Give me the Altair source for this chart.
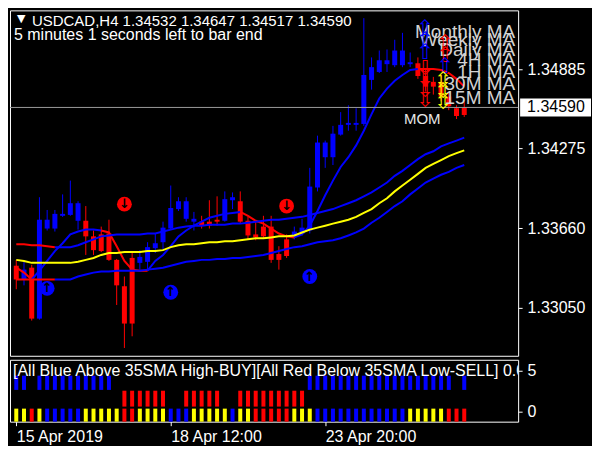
import altair as alt
import pandas as pd

# ---------------- data ----------------
bar_index = list(range(59))
opens = [1.33372,1.33266,1.33357,1.32965,1.33726,1.33658,1.33771,1.33763,1.33853,1.33718,
         1.33598,1.33485,1.33620,1.33417,1.33214,1.32927,1.33440,1.33402,1.33507,1.33553,
         1.33658,1.33808,1.33868,1.33733,1.33711,1.33680,1.33711,1.33718,1.33876,1.33868,
         1.33718,1.33613,1.33598,1.33673,1.33417,1.33447,1.33598,1.33620,1.33643,1.33974,
         1.34320,1.34207,1.34381,1.34456,1.34471,1.34463,1.34802,1.34863,1.34953,1.34915,
         1.35028,1.34923,1.34930,1.34832,1.34750,1.34787,1.34674,1.34584,1.34532]
highs = [1.33417,1.33402,1.33379,1.33899,1.33801,1.33801,1.33921,1.34027,1.33868,1.33831,
         1.33643,1.33673,1.33726,1.33424,1.33289,1.33485,1.33492,1.33553,1.33620,1.33711,
         1.33989,1.33899,1.33899,1.33786,1.33756,1.33876,1.33906,1.33944,1.33936,1.33944,
         1.33748,1.33718,1.33756,1.33756,1.33522,1.33613,1.33673,1.33733,1.34125,1.34373,
         1.34335,1.34448,1.34554,1.34607,1.34584,1.35277,1.34975,1.35028,1.35036,1.35111,
         1.35164,1.35013,1.34975,1.34885,1.34825,1.34840,1.34712,1.34607,1.34647]
lows = [1.33191,1.33221,1.32950,1.32957,1.33643,1.33635,1.33748,1.33756,1.33650,1.33455,
        1.33455,1.33477,1.33409,1.33070,1.32739,1.32829,1.33342,1.33334,1.33470,1.33492,
        1.33650,1.33793,1.33711,1.33643,1.33658,1.33658,1.33680,1.33711,1.33808,1.33696,
        1.33575,1.33568,1.33583,1.33394,1.33342,1.33432,1.33575,1.33605,1.33620,1.33944,
        1.34125,1.34147,1.34373,1.34411,1.34411,1.34448,1.34727,1.34855,1.34863,1.34900,
        1.34900,1.34900,1.34810,1.34712,1.34689,1.34637,1.34569,1.34501,1.34517]
closes = [1.33266,1.33342,1.32965,1.33726,1.33658,1.33771,1.33756,1.33853,1.33718,1.33598,
          1.33492,1.33613,1.33417,1.33221,1.32927,1.33432,1.33394,1.33515,1.33545,1.33665,
          1.33816,1.33868,1.33733,1.33711,1.33680,1.33711,1.33726,1.33884,1.33899,1.33711,
          1.33605,1.33590,1.33673,1.33417,1.33462,1.33575,1.33635,1.33665,1.33981,1.34320,
          1.34207,1.34388,1.34456,1.34471,1.34456,1.34840,1.34900,1.34953,1.34923,1.35028,
          1.34915,1.34938,1.34832,1.34750,1.34787,1.34674,1.34599,1.34524,1.34590]
candle_colors = "RBRBBBBBBRRRRRRRBBBBBBBBRRRBBRRRRRRRBBBBBBBBBBBBBBBBRRRRRRR"

fast_ma = [1.33357,1.33319,1.33266,1.33334,1.33409,1.33485,1.33545,1.33613,1.33635,1.33650,
           1.33650,1.33643,1.33628,1.33522,1.33409,1.33342,1.33334,1.33334,1.33409,1.33455,
           1.33522,1.33598,1.33643,1.33680,1.33711,1.33741,1.33756,1.33771,1.33778,1.33786,
           1.33756,1.33718,1.33696,1.33658,1.33620,1.33598,1.33590,1.33613,1.33680,1.33793,
           1.33914,1.34027,1.34132,1.34207,1.34298,1.34411,1.34539,1.34659,1.34735,1.34795,
           1.34840,1.34878,1.34885,1.34885,1.34885,1.34878,1.34855,1.34810,1.34750]
fast_runs = [("R", 0, 2), ("B", 2, 11), ("R", 11, 17), ("B", 17, 29), ("R", 29, 36), ("B", 36, 52), ("R", 52, 58)]
sma_mid = [1.33417,1.33409,1.33394,1.33394,1.33394,1.33394,1.33394,1.33394,1.33402,1.33417,
           1.33432,1.33455,1.33470,1.33470,1.33477,1.33477,1.33477,1.33485,1.33485,1.33492,
           1.33515,1.33530,1.33537,1.33537,1.33545,1.33553,1.33553,1.33560,1.33560,1.33568,
           1.33575,1.33583,1.33583,1.33590,1.33598,1.33598,1.33605,1.33628,1.33650,1.33665,
           1.33680,1.33696,1.33711,1.33726,1.33748,1.33778,1.33808,1.33853,1.33891,1.33944,
           1.33989,1.34034,1.34079,1.34125,1.34155,1.34185,1.34215,1.34238,1.34260]
mid_runs = [("Y", 0, 58)]
sma_high = [1.33537,1.33537,1.33530,1.33530,1.33522,1.33515,1.33515,1.33515,1.33530,1.33553,
            1.33575,1.33598,1.33605,1.33613,1.33613,1.33613,1.33613,1.33620,1.33620,1.33635,
            1.33650,1.33665,1.33673,1.33680,1.33680,1.33688,1.33688,1.33688,1.33696,1.33696,
            1.33703,1.33711,1.33718,1.33726,1.33726,1.33733,1.33741,1.33748,1.33763,1.33778,
            1.33793,1.33808,1.33831,1.33853,1.33876,1.33906,1.33936,1.33974,1.34012,1.34064,
            1.34102,1.34147,1.34192,1.34230,1.34253,1.34290,1.34313,1.34335,1.34358]
sma_low = [1.33266,1.33266,1.33266,1.33266,1.33266,1.33266,1.33266,1.33266,1.33289,1.33304,
           1.33319,1.33327,1.33327,1.33334,1.33334,1.33334,1.33334,1.33342,1.33349,1.33357,
           1.33372,1.33387,1.33402,1.33409,1.33417,1.33417,1.33424,1.33424,1.33432,1.33432,
           1.33440,1.33447,1.33455,1.33470,1.33485,1.33500,1.33515,1.33522,1.33537,1.33553,
           1.33560,1.33568,1.33583,1.33605,1.33628,1.33658,1.33703,1.33741,1.33786,1.33831,
           1.33868,1.33921,1.33966,1.34012,1.34042,1.34072,1.34094,1.34125,1.34147]
band_runs = [("R", 0, 5), ("B", 5, 58)]

sig_down_bar = [14, 35]
sig_down_price = [1.33846, 1.33831]
sig_up_bar = [4, 20, 38]
sig_up_price = [1.33198, 1.33168, 1.33289]

price_ticks = [1.33050, 1.33660, 1.34275, 1.34885]
last_price = 1.34590

sub_top = "BB-BBBBBBBBBB-------------------------BBBBBBBBBBBBBBBBBBB-B"
sub_mid = "--------------RRRRRR--RRRRR--RRRRRRRRR---------------------"
sub_bot = "YYRYBBBBBYYYYYRRYYYYBBBYYYYYBYYRRRRRYYYBBBBBBBBBBBBYYYYYRRR"
sub_rows = {"top": (2.65, 4.4), "mid": (0.6, 2.55), "bot": (-1.25, 0.35)}
time_ticks = [0, 20, 40]
time_labels = ["15 Apr 2019", "18 Apr 12:00", "23 Apr 20:00"]

header = "USDCAD,H4  1.34532 1.34647 1.34517 1.34590"
timer_text = "5 minutes 1 seconds left to bar end"
sub_text = "[All Blue Above 35SMA High-BUY][All Red Below 35SMA Low-SELL] 0.0"
ma_labels = ["Monthly MA", "Weekly MA", "Daily MA", "4H MA", "1H MA", "30M MA", "15M MA"]
ma_label_y = [22, 30, 40, 50, 62, 74, 88]
# trend dashboard glyphs: (symbol, colour, x, y) in screen pixels of the panel
dash_glyphs = [("⇧", "B", 416, 19), ("⇧", "B", 416, 31), ("⇧", "B", 416, 43),
               ("⇩", "R", 416, 59), ("⇩", "R", 416, 70), ("⇩", "R", 416, 81), ("⇩", "R", 416, 91),
               ("⇧", "R", 436, 34), ("⇧", "R", 436, 46), ("⇧", "B", 436, 57),
               ("⇳", "Y", 434, 71), ("⇳", "Y", 434, 82), ("⇳", "Y", 434, 93)]

# ---------------- styling / layout ----------------
PAL = {"B": "#0000ff", "R": "#ff0000", "Y": "#ffff00"}
FONT = "Liberation Sans"
W, H_MAIN, H_SUB = 509, 346, 62
xs = alt.Scale(domain=[-0.166, 64.33], nice=False, zero=False)
ys = alt.Scale(domain=[1.32679, 1.35337], nice=False, zero=False)
ys_sub = alt.Scale(domain=[-1.25, 6.35], nice=False, zero=False)
dummy = pd.DataFrame({"a": [0]})


def label(txt, x, y, size=15, color="white", align="left", font=FONT, clip=False, bold=False):
    return alt.Chart(dummy).mark_text(
        align=align, baseline="middle", font=font, fontSize=size, color=color,
        clip=clip, fontWeight="bold" if bold else "normal"
    ).encode(x=alt.value(x), y=alt.value(y), text=alt.value(txt))


candles = pd.DataFrame({
    "i": bar_index, "open": opens, "high": highs, "low": lows, "close": closes,
    "col": [PAL[c] for c in candle_colors],
})

price_axis = alt.Axis(orient="right", values=price_ticks, format=".5f", title=None,
                      labelFont=FONT, labelFontSize=16, labelColor="white",
                      tickColor="white", tickSize=4, labelPadding=5, domain=False,
                      grid=False, labelBound=False)

wicks = alt.Chart(candles).mark_rule(strokeWidth=1).encode(
    x=alt.X("i:Q", scale=xs, axis=None),
    y=alt.Y("low:Q", scale=ys, axis=price_axis),
    y2="high:Q",
    color=alt.Color("col:N", scale=None),
)
bodies = alt.Chart(candles).mark_bar(size=5).encode(
    x=alt.X("i:Q", scale=xs, axis=None),
    y=alt.Y("open:Q", scale=ys),
    y2="close:Q",
    color=alt.Color("col:N", scale=None),
)

rows = []
for name, vals, runs in [("fast", fast_ma, fast_runs), ("high", sma_high, band_runs),
                         ("low", sma_low, band_runs), ("mid", sma_mid, mid_runs)]:
    for k, (c, a, b) in enumerate(runs):
        for j in range(a, b + 1):
            rows.append({"seg": f"{name}{k}", "i": j, "v": vals[j], "col": PAL[c], "order": j})
lines_df = pd.DataFrame(rows)
lines = alt.Chart(lines_df).mark_line(strokeWidth=2).encode(
    x=alt.X("i:Q", scale=xs, axis=None),
    y=alt.Y("v:Q", scale=ys),
    detail="seg:N",
    order="order:Q",
    color=alt.Color("col:N", scale=None),
)

last_df = pd.DataFrame({"p": [last_price], "t": [f"{last_price:.5f}"]})
last_rule = alt.Chart(last_df).mark_rule(color="#9a9a9a", strokeWidth=1).encode(
    y=alt.Y("p:Q", scale=ys), x=alt.value(0), x2=alt.value(W))
last_box = alt.Chart(last_df).mark_rect(color="white", yOffset=-9, y2Offset=9).encode(
    y=alt.Y("p:Q", scale=ys), y2="p:Q", x=alt.value(511), x2=alt.value(582))
last_txt = alt.Chart(last_df).mark_text(align="left", baseline="middle", font=FONT,
                                        fontSize=16, color="black").encode(
    y=alt.Y("p:Q", scale=ys), x=alt.value(518), text="t:N")

sig_dn = pd.DataFrame({"i": sig_down_bar, "p": sig_down_price})
sig_up = pd.DataFrame({"i": sig_up_bar, "p": sig_up_price})
dn_circ = alt.Chart(sig_dn).mark_point(shape="circle", filled=True, size=220, color="#ff0000", opacity=1).encode(
    x=alt.X("i:Q", scale=xs), y=alt.Y("p:Q", scale=ys))
dn_arr = alt.Chart(sig_dn).mark_text(text="↓", font="DejaVu Sans", fontSize=13, fontWeight="bold",
                                     color="black", baseline="middle").encode(
    x=alt.X("i:Q", scale=xs), y=alt.Y("p:Q", scale=ys))
up_circ = alt.Chart(sig_up).mark_point(shape="circle", filled=True, size=220, color="#0000ff", opacity=1).encode(
    x=alt.X("i:Q", scale=xs), y=alt.Y("p:Q", scale=ys))
up_arr = alt.Chart(sig_up).mark_text(text="↑", font="DejaVu Sans", fontSize=13, fontWeight="bold",
                                     color="black", baseline="middle").encode(
    x=alt.X("i:Q", scale=xs), y=alt.Y("p:Q", scale=ys))

texts = [
    label("▼", 7, 9, size=11, font="DejaVu Sans"),
    label(header, 22, 11, size=15),
    label(timer_text, 4, 25, size=16),
]
for t, yy in zip(ma_labels, ma_label_y):
    texts.append(label(t, 506, yy, size=19, color="#d2d2d2", align="right"))
for sym, c, gx, gy in dash_glyphs:
    texts.append(label(sym, gx, gy, size=21, color=PAL[c], align="center", font="DejaVu Sans"))
texts.append(label("MOM", 413, 109, size=15, color="#e6e6e6", align="center"))

main = alt.layer(wicks, bodies, lines, last_rule, dn_circ, dn_arr, up_circ, up_arr,
                 *texts, last_box, last_txt).properties(width=W, height=H_MAIN)

# ---------------- sub window ----------------
srows = []
for rname, pattern in [("top", sub_top), ("mid", sub_mid), ("bot", sub_bot)]:
    lo, hi = sub_rows[rname]
    for j, c in enumerate(pattern):
        if c in PAL:
            srows.append({"i": j, "lo": lo, "hi": hi, "col": PAL[c]})
sub_df = pd.DataFrame(srows)
label_expr = " : ".join(
    [f"datum.value == {v} ? '{t}'" for v, t in zip(time_ticks[:-1], time_labels[:-1])]
) + f" : '{time_labels[-1]}'"
sub_bars = alt.Chart(sub_df).mark_bar(size=4).encode(
    x=alt.X("i:Q", scale=xs, axis=alt.Axis(values=time_ticks, labelExpr=label_expr, title=None,
                                           labelAlign="left", labelFont=FONT, labelFontSize=16,
                                           labelColor="white", tickColor="white", tickSize=4,
                                           labelPadding=3, domain=False, grid=False,
                                           labelFlush=False, labelBound=False)),
    y=alt.Y("lo:Q", scale=ys_sub, axis=alt.Axis(orient="right", values=[0, 5], format="d", title=None,
                                                labelFont=FONT, labelFontSize=16, labelColor="white",
                                                tickColor="white", tickSize=4, labelPadding=5,
                                                domain=False, grid=False)),
    y2="hi:Q",
    color=alt.Color("col:N", scale=None),
)
sub_label = label(sub_text, 3, 11, size=16, clip=True)
sub = alt.layer(sub_bars, sub_label).properties(width=W, height=H_SUB)

chart = alt.vconcat(main, sub, spacing=2).properties(
    background="black",
    padding={"left": 1, "top": 1, "right": 0, "bottom": 0},
).configure_view(stroke="white", strokeWidth=1).configure_concat(spacing=2)

chart.save("out.html", embed_options={"renderer": "svg", "actions": False})
